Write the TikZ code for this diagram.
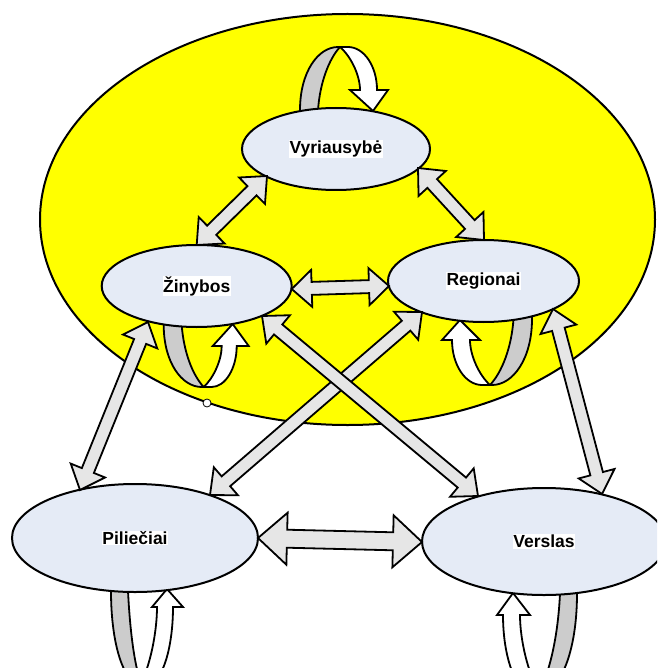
\documentclass[tikz,border=0pt]{standalone}
\usepackage{fontspec}
\setmainfont{Liberation Sans}
\usetikzlibrary{calc,shapes.geometric}
\definecolor{bigyellow}{HTML}{FFFF00}
\definecolor{nodefill}{HTML}{E5EBF6}
\definecolor{arrowfill}{HTML}{E6E6E6}
\definecolor{loopgray}{HTML}{CCCCCC}
\pgfdeclarelayer{yellowlayer}
\pgfdeclarelayer{looplayer}
\pgfsetlayers{yellowlayer,looplayer,main}

\def\setloopx#1,#2,#3,#4,#5,#6,#7,#8\relax{\def\lgo{#1}\def\lgi{#2}\def\lax{#3}\def\lwi{#4}\def\lwo{#5}\def\lbl{#6}\def\lbr{#7}\def\ltx{#8}}
\def\setloopy#1,#2,#3,#4\relax{\def\lgy{#1}\def\lhy{#2}\def\ltpy{#3}\def\lay{#4}}
\newcommand{\selfloop}[2]{%
  \setloopx#1\relax\setloopy#2\relax
  \pgfmathsetmacro\lD{(\lay)-(\lgy)}%
  \pgfmathsetmacro\lDw{(\lay)-(\lhy)}%
  \pgfmathsetmacro\gAy{(\lgy)+0.6*\lD}%
  \pgfmathsetmacro\gBx{(\lax)-0.55*((\lax)-(\lgo))}%
  \pgfmathsetmacro\gEx{(\lax)-2}%
  \pgfmathsetmacro\iAx{(\lax)-0.5*((\lax)-(\lgi))}%
  \pgfmathsetmacro\iAy{(\lay)-0.19*\lD}%
  \pgfmathsetmacro\iBx{(\lgi)+2}%
  \pgfmathsetmacro\iBy{(\lgy)+0.44*\lD}%
  \pgfmathsetmacro\wAx{(\lax)+0.55*((\lwi)-(\lax))}%
  \pgfmathsetmacro\wAy{(\lay)-0.22*\lDw}%
  \pgfmathsetmacro\wBy{(\lhy)+0.34*\lDw}%
  \pgfmathsetmacro\oAy{(\lhy)+0.55*\lDw}%
  \pgfmathsetmacro\oBx{(\lwo)-0.35*((\lwo)-(\lax))}%
  \pgfmathsetmacro\oEx{(\lax)+8}%
  \pgfmathsetmacro\topy{(\lgy)-14}%
  \filldraw[loopback] (\lgo,\topy) -- (\lgo,\lgy)
     .. controls (\lgo,\gAy) and (\gBx,\lay) .. (\gEx,\lay) -- (\lax,\lay)
     .. controls (\iAx,\iAy) and (\iBx,\iBy) .. (\lgi,\lgy) -- (\lgi,\topy) -- cycle;
  \filldraw[loopfront] (\lax,\lay)
     .. controls (\wAx,\wAy) and (\lwi,\wBy) .. (\lwi,\lhy)
     -- (\lbl,\lhy) -- (\ltx,\ltpy) -- (\lbr,\lhy) -- (\lwo,\lhy)
     .. controls (\lwo,\oAy) and (\oBx,\lay) .. (\oEx,\lay) -- cycle;
}
\newcommand{\dblarrow}[5]{%
  \path (#1) coordinate (dA) (#2) coordinate (dB);
  \path ($(dA)!#5!(dB)$) coordinate (dAa) ($(dB)!#5!(dA)$) coordinate (dBb);
  \filldraw[blockarrow] (dA) -- ($(dAa)!#4!90:(dA)$) -- ($(dAa)!#3!90:(dA)$)
    -- ($(dBb)!#3!-90:(dB)$) -- ($(dBb)!#4!-90:(dB)$) -- (dB)
    -- ($(dBb)!#4!90:(dB)$) -- ($(dBb)!#3!90:(dB)$)
    -- ($(dAa)!#3!-90:(dA)$) -- ($(dAa)!#4!-90:(dA)$) -- cycle;
}

\begin{document}
\begin{tikzpicture}[x=1pt,y=-1pt,
  actor/.style n args={2}{ellipse, draw=black, line width=2pt, fill=nodefill,
    inner sep=0pt, outer sep=0pt, minimum width=#1, minimum height=#2},
  lbl/.style={fill=white, inner sep=0.6pt, font=\bfseries\fontsize{17.5}{20}\selectfont},
  blockarrow/.style={fill=arrowfill, draw=black, line width=1.8pt, line join=miter},
  loopback/.style={fill=loopgray, draw=black, line width=1.8pt, line join=round},
  loopfront/.style={fill=white, draw=black, line width=1.8pt, line join=miter}]
\useasboundingbox (0,0) rectangle (657,668);
\clip (0,0) rectangle (657,668);

\begin{pgfonlayer}{yellowlayer}
  \fill[white] (0,0) rectangle (657,668);
  \node[ellipse, draw=black, line width=2pt, fill=bigyellow, inner sep=0pt,
        minimum width=615pt, minimum height=411pt] (field) at (347.5,219.5) {};
\end{pgfonlayer}

% actors
\node[actor={188pt}{82pt}] (vy) at (336,149) {};
\node[actor={190pt}{82pt}] (zi) at (196.7,286) {};
\node[actor={191pt}{82pt}] (re) at (483.5,281) {};
\node[actor={246pt}{108pt}] (pi) at (135,538) {};
\node[actor={244pt}{107pt}] (ve) at (544,541.5) {};
\node[lbl] (vyl) at (vy) {Vyriausybė};
\node[lbl] (zil) at (zi) {Žinybos};
\node[lbl] (rel) at (re) {Regionai};
\node[lbl] (pil) at (pi) {Piliečiai};
\node[lbl] (vel) at (ve) {Verslas};

% self loops
\begin{pgfonlayer}{looplayer}
  \begin{scope}[shift={(vy.center)}, yscale=-1]
    \selfloop{-36,-18,4,24,41,14,52,37}{39,59,38,102}
  \end{scope}
  \begin{scope}[shift={(zi.center)}]
    \selfloop{-33,-15,7,25,40,16,52,36}{39,60,38,101}
  \end{scope}
  \begin{scope}[shift={(re.center)}, xscale=-1]
    \selfloop{-48.5,-30,-6.5,13.5,31.5,3.5,41.5,23.5}{38,59,39,104}
  \end{scope}
  \begin{scope}[shift={(pi.center)}]
    \selfloop{-24,-7,6,22,38,17,48,32}{53,69,51,145}
  \end{scope}
  \begin{scope}[shift={(ve.center)}, xscale=-1]
    \selfloop{-33,-16,5,24,41,14,47,31}{52,73.5,51.5,150}
  \end{scope}
\end{pgfonlayer}

% connectors
\dblarrow{$(vy.center)+(-69,27)$}{$(zi.center)+(0,-41)$}{6.5pt}{18.5pt}{21pt}
\dblarrow{$(vy.center)+(82,19)$}{$(re.center)+(0.5,-41)$}{6.5pt}{18.5pt}{21pt}
\dblarrow{$(zi.center)+(95,3)$}{$(re.center)+(-94.5,5)$}{6.5pt}{18.5pt}{20pt}
\dblarrow{$(zi.center)+(-48.7,36)$}{$(pi.center)+(-55,-48)$}{6.5pt}{18.5pt}{21pt}
\dblarrow{$(re.center)+(-61.5,31)$}{$(pi.center)+(75,-43)$}{6.5pt}{18.5pt}{21pt}
\dblarrow{$(zi.center)+(65.3,30)$}{$(ve.center)+(-66,-45.5)$}{6.5pt}{18.5pt}{21pt}
\dblarrow{$(re.center)+(69.5,28)$}{$(ve.center)+(58,-47.5)$}{6.5pt}{18.5pt}{21pt}
\dblarrow{$(pi.center)+(123,0)$}{$(ve.center)+(-122,0.5)$}{9pt}{26pt}{29pt}

\node[circle, draw=black, fill=white, inner sep=0pt, minimum size=8pt, line width=0.8pt] (handle) at (207,403) {};
\end{tikzpicture}
\end{document}
